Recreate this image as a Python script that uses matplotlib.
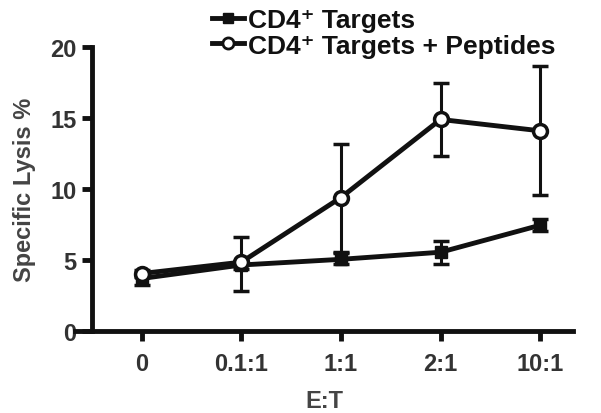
import matplotlib
matplotlib.use("Agg")
import matplotlib.pyplot as plt
from matplotlib.lines import Line2D
import numpy as np

plt.rcParams['font.family'] = ['Liberation Sans', 'DejaVu Sans']
plt.rcParams['font.weight'] = 'bold'
plt.rcParams['axes.labelweight'] = 'bold'

categories = ["0", "0.1:1", "1:1", "2:1", "10:1"]
targets = [3.7, 4.65, 5.05, 5.55, 7.45]
targets_lo = [3.25, 4.4, 4.7, 4.75, 7.05]
targets_hi = [4.0, 4.9, 5.5, 6.35, 7.9]
peptides = [4.05, 4.85, 9.4, 14.9, 14.1]
peptides_lo = [3.8, 2.8, 5.55, 12.35, 9.55]
peptides_hi = [4.3, 6.6, 13.2, 17.5, 18.65]
labels = ['CD4\u207a Targets', 'CD4\u207a Targets + Peptides']

x = np.arange(len(categories))
fig = plt.figure(figsize=(6.01, 4.14), dpi=100)
ax = fig.add_axes([0.1248, 0.198, 0.8286, 0.686])

tc = '#111111'
lw = 3.5
t_err = [np.array(targets) - np.array(targets_lo), np.array(targets_hi) - np.array(targets)]
p_err = [np.array(peptides) - np.array(peptides_lo), np.array(peptides_hi) - np.array(peptides)]

ax.errorbar(x, targets, yerr=t_err, color=tc, lw=lw, marker='s', ms=9,
            mfc=tc, mec=tc, elinewidth=2.2, capsize=6, capthick=2.5, zorder=3)
ax.errorbar(x, peptides, yerr=p_err, color=tc, lw=lw, marker='o', ms=10,
            mfc='white', mec=tc, mew=2.5, elinewidth=2.2, capsize=6, capthick=2.5,
            zorder=4)

ax.set_xlim(-0.67, 4.33)
ax.set_ylim(0, 20)
ax.set_xticks(x)
ax.set_xticklabels(categories)
ax.set_yticks([0, 5, 10, 15, 20])

for s in ['top', 'right']:
    ax.spines[s].set_visible(False)
ax.spines['left'].set_position(('data', -0.5))
ax.spines['left'].set_bounds(0, 20)
ax.spines['left'].set_linewidth(3.5)
ax.spines['bottom'].set_linewidth(3.5)
ax.spines['left'].set_color(tc)
ax.spines['bottom'].set_color(tc)

ax.tick_params(axis='both', colors=tc, labelcolor='#333333', labelsize=17,
               width=3.5, length=7, direction='out', pad=4)
ax.tick_params(axis='x', pad=8)

ax.set_ylabel('Specific Lysis %', fontsize=17, color='#444444',
              fontweight='bold', labelpad=10)
ax.set_xlabel('E:T', fontsize=17, color='#444444', fontweight='bold', labelpad=10)

handles = [
    Line2D([], [], color=tc, lw=lw, marker='s', ms=7, mfc=tc, mec=tc),
    Line2D([], [], color=tc, lw=lw, marker='o', ms=8, mfc='white', mec=tc, mew=2),
]
leg = fig.legend(handles, labels, loc='upper left', bbox_to_anchor=(0.335, 1.003),
                 frameon=False, prop={'size': 19, 'weight': 'bold'},
                 handlelength=1.2, handletextpad=0.15,
                 labelspacing=0.05, borderaxespad=0)
for t in leg.get_texts():
    t.set_color('#111111')

fig.savefig('out.png', dpi=100)
